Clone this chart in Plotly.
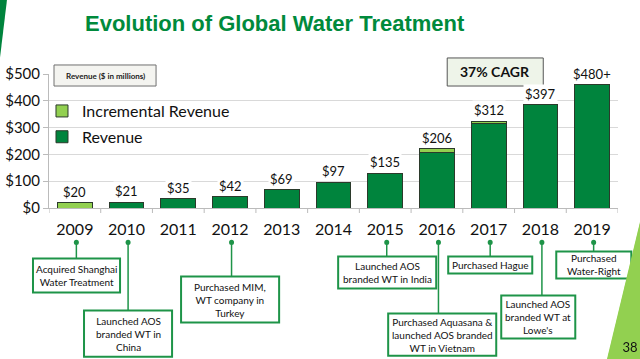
import plotly.graph_objects as go

years = ["2009", "2010", "2011", "2012", "2013", "2014", "2015", "2016", "2017", "2018", "2019"]
revenue = [0, 21, 35, 42, 69, 97, 130, 207, 315, 385, 460]
incremental = [20, 0, 0, 0, 0, 0, 0, 15, 8, 0, 0]
value_labels = ["$20", "$21", "$35", "$42", "$69", "$97", "$135", "$206", "$312", "$397", "$480+"]
y_ticks = [0, 100, 200, 300, 400, 500]
y_tick_labels = ["$0", "$100", "$200", "$300", "$400", "$500"]

events_year = ["2009", "2010", "2012", "2015", "2016", "2017", "2018", "2019"]
events_text = [
    "Acquired Shanghai<br>Water Treatment",
    "Launched AOS<br>branded WT in<br>China",
    "Purchased MIM,<br>WT company in<br>Turkey",
    "Launched AOS<br>branded WT in India",
    "Purchased Aquasana &<br>launched AOS branded<br>WT in Vietnam",
    "Purchased Hague",
    "Launched AOS<br>branded WT at<br>Lowe's",
    "Purchased<br>Water-Right",
]
# callout box extents in pixels (x0, x1, y0, y1)
event_boxes = [
    (33, 120, 258, 292),
    (84, 172, 310, 356),
    (181, 279, 276, 322),
    (338, 436, 256, 288),
    (388, 496, 313, 355),
    (448, 532, 256, 273),
    (501, 575, 295, 338),
    (556, 631, 251, 278),
]
page_number = "38"

W, H = 640, 359
L, R, T, B = 49, 617.7, 74, 207.7

def px(x):
    return (x - L) / (R - L)

def py(y):
    return (B - y) / (B - T)

DARK = "#00843D"
LIGHT = "#92D050"
FONT = "Lato"

idx = list(range(len(years)))

fig = go.Figure()
fig.add_trace(go.Bar(x=idx, y=revenue, name="Revenue", marker=dict(color=DARK, line=dict(color="#2b3a2b", width=1)),
                     legendgroup="b", legendrank=2))
fig.add_trace(go.Bar(x=idx, y=incremental, name="Incremental Revenue",
                     marker=dict(color=LIGHT, line=dict(color="#2b3a2b", width=1)), legendgroup="a", legendrank=1))

annotations = []
shapes = []

def note(x, y, text, size, color="#111", family=FONT, **kw):
    d = dict(x=px(x), y=py(y), xref="paper", yref="paper", text=text, showarrow=False,
             xanchor="center", yanchor="middle", font=dict(family=family, size=size, color=color))
    d.update(kw)
    annotations.append(d)

def poly(points, color):
    path = "M " + " L ".join(f"{px(a):.5f},{py(b):.5f}" for a, b in points) + " Z"
    shapes.append(dict(type="path", xref="paper", yref="paper", path=path, fillcolor=color,
                       line=dict(width=0)))

# value labels
for i in idx:
    tot = revenue[i] + incremental[i]
    annotations.append(dict(x=i, y=tot, xref="x", yref="y", text=value_labels[i], showarrow=False,
                            xanchor="center", yanchor="bottom", yshift=1,
                            font=dict(family=FONT, size=13, color="#111"), bgcolor="white", borderpad=1))

# title
note(275, 24, "<b>Evolution of Global Water Treatment</b>", 22, color="#008A3C", family="Liberation Sans")
# Revenue box
shapes.append(dict(type="rect", xref="paper", yref="paper", x0=px(54), x1=px(156), y0=py(86), y1=py(65),
                   fillcolor="#F4F4F0", line=dict(color="#707070", width=1), layer="above"))
note(105, 75.5, "<b>Revenue ($ in millions)</b>", 8, color="#222")
# CAGR box
shapes.append(dict(type="rect", xref="paper", yref="paper", x0=px(447), x1=px(543), y0=py(86), y1=py(58),
                   fillcolor="#EEF4E9", line=dict(color="#555", width=1), layer="above"))
note(495, 72, "<b>37% CAGR</b>", 14)

# event callouts
cat_w = (R - L) / len(years)
for yr, txt, (x0, x1, y0, y1) in zip(events_year, events_text, event_boxes):
    cx = L + cat_w * (years.index(yr) + 0.5) + 1.5
    shapes.append(dict(type="line", xref="paper", yref="paper", x0=px(cx), x1=px(cx), y0=py(242), y1=py(y0),
                       line=dict(color="#1E9448", width=1.5)))
    shapes.append(dict(type="circle", xref="paper", yref="paper", x0=px(cx - 2.5), x1=px(cx + 2.5),
                       y0=py(239.5), y1=py(244.5), fillcolor="#1E9448", line=dict(width=0)))
    shapes.append(dict(type="rect", xref="paper", yref="paper", x0=px(x0), x1=px(x1), y0=py(y1), y1=py(y0),
                       fillcolor="white", line=dict(color="#1E9448", width=2)))
    note((x0 + x1) / 2, (y0 + y1) / 2, txt, 10)

# category boundary ticks on x axis
for k in range(len(years) + 1):
    shapes.append(dict(type="line", xref="x", yref="paper", x0=k - 0.5, x1=k - 0.5, y0=0, y1=py(B + 5),
                       line=dict(color="#bbb", width=1)))

# decorations
poly([(0, 0), (7, 0), (0, 58)], DARK)
poly([(640, 222), (640, 359), (607, 359)], LIGHT)

fig.update_layout(
    width=W, height=H,
    margin=dict(l=L, r=W - R, t=T, b=H - B, pad=0, autoexpand=False),
    paper_bgcolor="white", plot_bgcolor="white",
    barmode="stack", bargap=0.33,
    showlegend=True,
    legend=dict(x=px(42), y=py(94), xanchor="left", yanchor="top", traceorder="grouped",
                tracegroupgap=2, font=dict(family=FONT, size=16, color="#111"), bgcolor="rgba(0,0,0,0)",
                itemwidth=30),
    xaxis=dict(range=[-0.5, len(years) - 0.5], tickvals=idx, ticktext=years, ticks="", showline=True,
               linecolor="#bbb", tickfont=dict(family=FONT, size=16, color="#111"), ticklabelstandoff=7,
               showgrid=False, automargin=False, tickangle=0),
    yaxis=dict(range=[0, 500], tickvals=y_ticks, ticktext=y_tick_labels, ticks="outside", ticklen=5,
               tickcolor="#bbb", showline=True, linecolor="#bbb", gridcolor="#d9d9d9", gridwidth=1,
               tickfont=dict(family=FONT, size=15, color="#111"), zeroline=False, automargin=False),
    annotations=annotations, shapes=shapes,
)

# corner wedge with page number, overlaid on the page so it is always visible
corner_svg = (
    "<svg xmlns='http://www.w3.org/2000/svg' width='33' height='137' viewBox='0 0 33 137' "
    "style='position:fixed;left:607px;top:222px;pointer-events:none;z-index:10;overflow:visible'>"
    "<polygon points='33,0 33,137 0,137' fill='" + LIGHT + "'/>"
    "<text x='23' y='130' text-anchor='middle' font-family='Lato' font-size='13' fill='#111'>"
    + page_number + "</text></svg>"
)
post = (
    "document.body.style.margin='0';document.body.style.overflow='hidden';"
    "document.body.insertAdjacentHTML('beforeend', \"" + corner_svg + "\");"
)

fig.write_html("out.html", config={"displayModeBar": False}, post_script=post)
